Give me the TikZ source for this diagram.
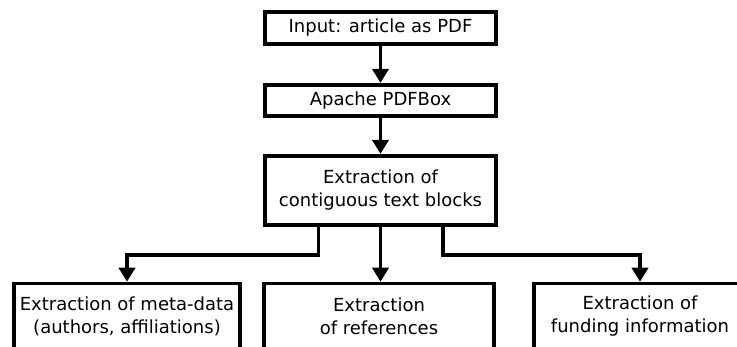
\documentclass[tikz,border=0pt]{standalone}
\usepackage{fontspec}
\setmainfont{DejaVu Sans}
\usetikzlibrary{arrows.meta}
\begin{document}
\begin{tikzpicture}[x=1pt,y=-1pt,
  box/.style={draw=black, line width=3.6pt, fill=white, inner sep=0pt},
  lbl/.style={font=\fontsize{18}{23}\selectfont, align=center, inner sep=0pt},
  arr/.style={line width=3.6pt, -{Triangle[width=16pt,length=14pt]}}]
\useasboundingbox[fill=white] (0,0) rectangle (737,347);
\node[box, minimum width=231.5pt, minimum height=32.5pt, lbl] (inp) at (380.5,28) {Input: article as PDF};
\node[box, minimum width=231.5pt, minimum height=31.5pt, lbl] (pdfbox) at (380.5,100.5) {Apache PDFBox};
\node[box, minimum width=231.5pt, minimum height=69.5pt, lbl] (blocks) at (380.5,190.5) {Extraction of\\contiguous text blocks};
\node[box, minimum width=226.5pt, minimum height=130pt, anchor=north] (meta) at (127,281.75) {};
\node[box, minimum width=230.5pt, minimum height=130pt, anchor=north] (refs) at (379,281.75) {};
\node[box, minimum width=212.5pt, minimum height=130pt, anchor=north] (fund) at (640,281.75) {};
\node[lbl] (metat) at (127,316.5) {Extraction of meta-data\\(authors, affiliations)};
\node[lbl] (refst) at (379,316.5) {Extraction\\of references};
\node[lbl] (fundt) at (640,316.5) {Extraction of\\funding information};
\draw[arr] (inp.south) -- (pdfbox.north);
\draw[arr] (pdfbox.south) -- (blocks.north);
\draw[arr] (blocks.south) -- (blocks.south |- refs.north);
\draw[arr] ([xshift=-62pt]blocks.south) -- ++(0,28) -| (meta.north);
\draw[arr] ([xshift=62.5pt]blocks.south) -- ++(0,28) -| (fund.north);
\end{tikzpicture}
\end{document}
